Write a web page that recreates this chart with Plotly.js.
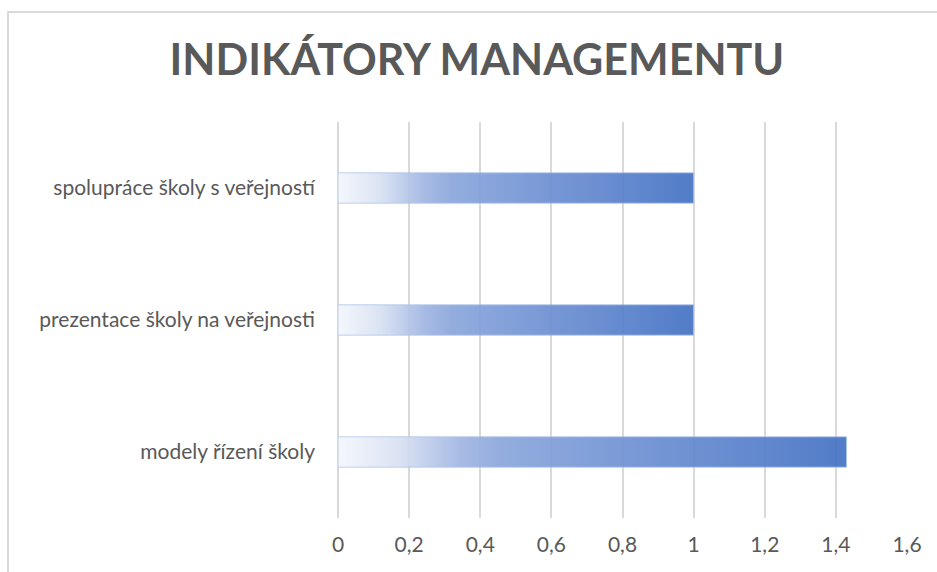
<!DOCTYPE html>
<html>
<head>
<meta charset="utf-8">
<script src="https://cdn.plot.ly/plotly-3.0.1.min.js"></script>
<style>
  html, body { margin: 0; padding: 0; background: #ffffff; }
  #frame { position: absolute; left: 7px; top: 11px; width: 960px; height: 600px;
           border-left: 2px solid #d9d9d9; border-top: 2px solid #d9d9d9; }
  #chart { position: absolute; left: 0; top: 0; width: 937px; height: 572px; }
</style>
</head>
<body>
<div id="frame"></div>
<div id="chart"></div>
<script>
// Data
const categories = ["modely řízení školy", "prezentace školy na veřejnosti", "spolupráce školy s veřejností"];
const values = [1.43, 1, 1];
const tickValues = [0, 0.2, 0.4, 0.6, 0.8, 1, 1.2, 1.4, 1.6];
const tickLabels = ["0", "0,2", "0,4", "0,6", "0,8", "1", "1,2", "1,4", "1,6"];
const chartTitle = "INDIKÁTORY MANAGEMENTU";

const trace = {
  type: "bar",
  orientation: "h",
  y: categories,
  x: values,
  marker: { color: "#4472c4", opacity: 0.92, line: { color: "rgba(170,192,232,0.8)", width: 1 } },
  hoverinfo: "x+y"
};

const layout = {
  width: 937, height: 572,
  paper_bgcolor: "rgba(0,0,0,0)",
  plot_bgcolor: "rgba(0,0,0,0)",
  margin: { l: 338, r: 30, t: 122, b: 54 },
  title: {
    text: chartTitle,
    font: { family: "Lato, 'Open Sans', sans-serif", size: 43, color: "#595959", weight: "bold" },
    x: 0.509, xanchor: "center", y: 0.895, yanchor: "middle"
  },
  bargap: 0.77,
  showlegend: false,
  xaxis: {
    range: [0, 1.6],
    tickvals: tickValues,
    ticktext: tickLabels,
    showgrid: true, gridcolor: "#d9d9d9", gridwidth: 2,
    zeroline: true, zerolinecolor: "#d9d9d9", zerolinewidth: 2,
    showline: false, ticks: "",
    ticklabelstandoff: 12,
    tickfont: { family: "Lato, 'Open Sans', sans-serif", size: 21, color: "#595959" },
    fixedrange: true
  },
  yaxis: {
    type: "category",
    showgrid: false, zeroline: false, showline: false, ticks: "",
    ticklabelstandoff: 22,
    tickfont: { family: "Lato, 'Open Sans', sans-serif", size: 21, color: "#595959" },
    fixedrange: true
  }
};

Plotly.newPlot("chart", [trace], layout, { displayModeBar: false, staticPlot: true }).then(function (gd) {
  const svg = gd.querySelector(".main-svg");
  const ns = "http://www.w3.org/2000/svg";
  let defs = svg.querySelector("defs");
  if (!defs) { defs = document.createElementNS(ns, "defs"); svg.insertBefore(defs, svg.firstChild); }
  const grad = document.createElementNS(ns, "linearGradient");
  grad.setAttribute("id", "barGrad");
  grad.setAttribute("x1", "0"); grad.setAttribute("y1", "0");
  grad.setAttribute("x2", "1"); grad.setAttribute("y2", "0");
  const stops = [[0, "#f4f7fc"], [0.12, "#d8e1f3"], [0.24, "#a1b6e2"], [0.32, "#8aa6dc"], [0.6, "#6c8fd2"], [1, "#4472c4"]];
  stops.forEach(function (s) {
    const st = document.createElementNS(ns, "stop");
    st.setAttribute("offset", s[0]);
    st.setAttribute("stop-color", s[1]);
    grad.appendChild(st);
  });
  defs.appendChild(grad);
  gd.querySelectorAll(".barlayer .point path").forEach(function (p) {
    p.style.fill = "url(#barGrad)";
  });
});
</script>
</body>
</html>
